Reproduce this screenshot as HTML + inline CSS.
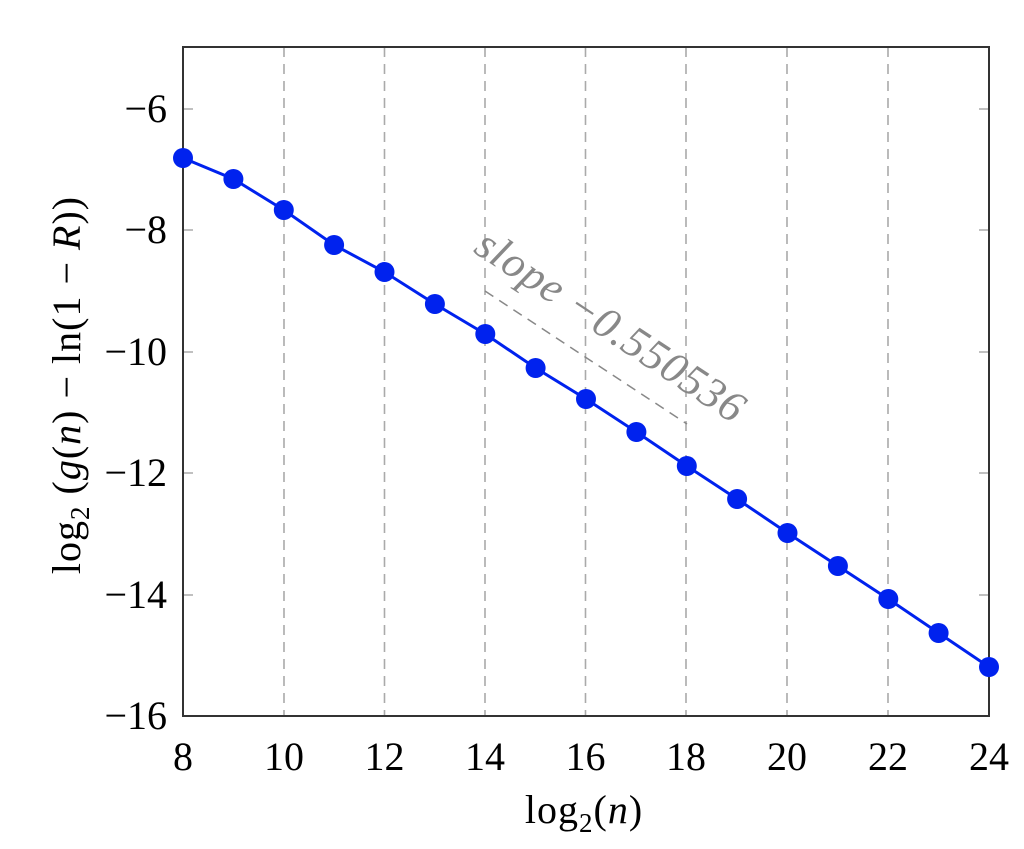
<!DOCTYPE html>
<html><head><style>body{margin:0;background:#fff}svg{display:block}</style></head><body>
<svg width="1024" height="849" xmlns="http://www.w3.org/2000/svg" font-family="'Liberation Serif', serif">
<g stroke="#aaa" stroke-width="1.6" stroke-dasharray="10,7">
<line x1="284" y1="47" x2="284" y2="716"/><line x1="384.5" y1="47" x2="384.5" y2="716"/><line x1="485" y1="47" x2="485" y2="716"/><line x1="585.5" y1="47" x2="585.5" y2="716"/><line x1="686" y1="47" x2="686" y2="716"/><line x1="787" y1="47" x2="787" y2="716"/><line x1="888" y1="47" x2="888" y2="716"/>
</g>
<g stroke="#aaa" stroke-width="1.5">
<line x1="183" y1="109" x2="193" y2="109"/><line x1="183" y1="230" x2="193" y2="230"/><line x1="183" y1="352" x2="193" y2="352"/><line x1="183" y1="473" x2="193" y2="473"/><line x1="183" y1="595" x2="193" y2="595"/>
<line x1="979" y1="109" x2="989" y2="109"/><line x1="979" y1="230" x2="989" y2="230"/><line x1="979" y1="352" x2="989" y2="352"/><line x1="979" y1="473" x2="989" y2="473"/><line x1="979" y1="595" x2="989" y2="595"/>
</g>
<line x1="485" y1="291" x2="687" y2="424" stroke="#888" stroke-width="1.5" stroke-dasharray="10,7"/>
<text transform="translate(603,338) rotate(33.5)" text-anchor="middle" font-size="44" fill="#888" font-style="italic" letter-spacing="1">slope −0.550536</text>
<rect x="183" y="47" width="806" height="669" fill="none" stroke="#333" stroke-width="2"/>
<polyline fill="none" stroke="#0022ee" stroke-width="3" points="183,158 233.4,179 283.8,210 334.1,245 384.5,272 434.9,304 485.3,334 535.6,368 586,399 636.4,432 686.8,466 737.1,499 787.5,533 837.9,566 888.3,599 938.6,633 989,667"/>
<g fill="#0022ee">
<circle cx="183" cy="158" r="10"/><circle cx="233.4" cy="179" r="10"/><circle cx="283.8" cy="210" r="10"/><circle cx="334.1" cy="245" r="10"/><circle cx="384.5" cy="272" r="10"/><circle cx="434.9" cy="304" r="10"/><circle cx="485.3" cy="334" r="10"/><circle cx="535.6" cy="368" r="10"/><circle cx="586" cy="399" r="10"/><circle cx="636.4" cy="432" r="10"/><circle cx="686.8" cy="466" r="10"/><circle cx="737.1" cy="499" r="10"/><circle cx="787.5" cy="533" r="10"/><circle cx="837.9" cy="566" r="10"/><circle cx="888.3" cy="599" r="10"/><circle cx="938.6" cy="633" r="10"/><circle cx="989" cy="667" r="10"/>
</g>
<g font-size="40" fill="#000" text-anchor="end">
<text x="167" y="122">−6</text><text x="167" y="243">−8</text><text x="167" y="365">−10</text><text x="167" y="486">−12</text><text x="167" y="608">−14</text><text x="167" y="729">−16</text>
</g>
<g font-size="40" fill="#000" text-anchor="middle">
<text x="183" y="770">8</text><text x="284" y="770">10</text><text x="384.5" y="770">12</text><text x="485" y="770">14</text><text x="585.5" y="770">16</text><text x="686" y="770">18</text><text x="787" y="770">20</text><text x="888" y="770">22</text><text x="989" y="770">24</text>
</g>
<text x="584" y="823" font-size="40" text-anchor="middle" letter-spacing="1">log<tspan font-size="27" dy="9">2</tspan><tspan dy="-9">(</tspan><tspan font-style="italic">n</tspan>)</text>
<text transform="translate(80,385) rotate(-90)" font-size="40" text-anchor="middle" letter-spacing="1">log<tspan font-size="27" dy="9">2</tspan><tspan dy="-9"> (</tspan><tspan font-style="italic">g</tspan>(<tspan font-style="italic">n</tspan>) − ln(1 − <tspan font-style="italic">R</tspan>))</text>
</svg>
</body></html>
